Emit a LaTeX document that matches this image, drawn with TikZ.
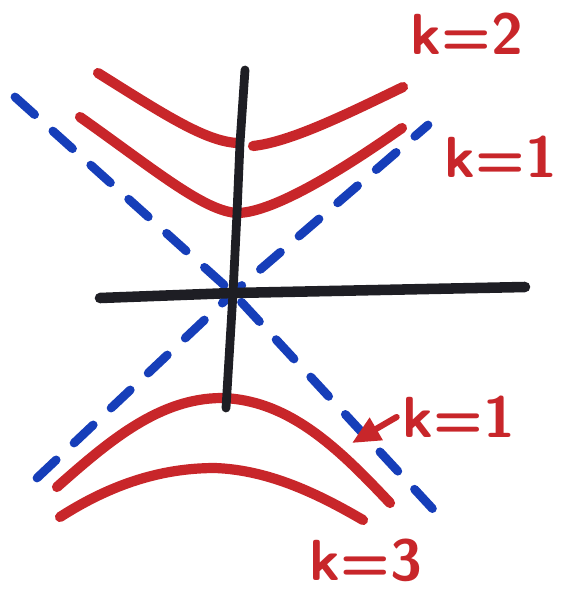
\documentclass[tikz,border=0pt]{standalone}
\usepackage{tikz}
\usetikzlibrary{arrows.meta}

\definecolor{markred}{RGB}{200,38,42}
\definecolor{markblue}{RGB}{22,62,185}
\definecolor{markblack}{RGB}{30,30,36}

\begin{document}
\begin{tikzpicture}[x=0.02cm,y=-0.02cm,
  every node/.style={font=\sffamily\bfseries\fontsize{33}{38}\selectfont,text=markred},
  levelcurve/.style={draw=markred,line width=5.8pt,line cap=round,line join=round},
  asymptote/.style={draw=markblue,line width=5pt,line cap=round,dash pattern=on 15pt off 14pt},
  axisline/.style={draw=markblack,line width=5pt,line cap=round,line join=round}]
\useasboundingbox (0,0) rectangle (564,602);

\coordinate (O) at (233,293);
\coordinate (tip) at (352,443);

\draw[asymptote] (15,97) -- (O) -- (443,520);
\draw[asymptote] (37,478) -- (O) -- (428,125);

\draw[levelcurve] (98,73) .. controls (165,115) and (205,141) .. (237,143);
\draw[levelcurve] (253,146) .. controls (290,142) and (345,115) .. (403,87);
\draw[levelcurve] (80,117) .. controls (155,170) and (205,212) .. (238,213)
  .. controls (275,212) and (345,168) .. (402,128);
\draw[levelcurve] (57,487) .. controls (110,440) and (160,398) .. (222,398)
  .. controls (290,400) and (340,450) .. (390,503);
\draw[levelcurve] (60,517) .. controls (110,485) and (160,468) .. (215,468)
  .. controls (270,470) and (320,495) .. (363,520);

\draw[axisline] (245,70) -- (240,143) -- (237,213) -- (O) -- (226,408);
\draw[axisline,line width=6pt] (100,298) -- (O) -- (525,287);

\node (k2up) at (467,34) {k=2};
\node (k1up) at (501,157) {k=1};
\node (k1down) at (459,417) {k=1};
\node (k3down) at (366,560) {k=3};

\draw[levelcurve,line width=3.5pt,-{Triangle[length=16pt,width=14pt]}]
  (k1down.west) -- (tip);
\end{tikzpicture}
\end{document}
